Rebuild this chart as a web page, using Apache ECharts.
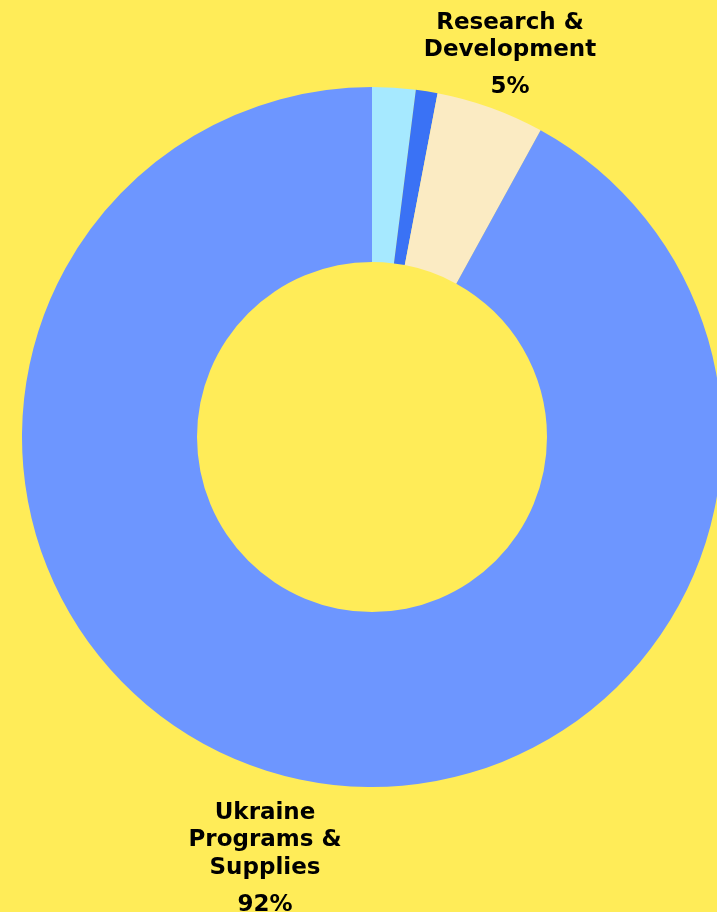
<!DOCTYPE html>
<html><head><meta charset="utf-8">
<style>html,body{margin:0;padding:0;background:#FFEC58;}#c{width:717px;height:912px;}</style>
<script src="https://cdn.jsdelivr.net/npm/echarts@6/dist/echarts.min.js"></script>
</head><body><div id="c"></div>
<script>
const categories = ['Administration', 'Fundraising', 'Research & Development', 'Ukraine Programs & Supplies'];
const labelNames = [null, null, ['Research &', 'Development'], ['Ukraine', 'Programs &', 'Supplies']];
const values = [2, 1, 5, 92];
const colors = ['#A6E9FF', '#3A72F5', '#FBEBC3', '#6D96FF'];

const chart = echarts.init(document.getElementById('c'));
const data = categories.map((c, i) => ({
  name: c, value: values[i],
  itemStyle: { color: colors[i] },
  label: { show: !!labelNames[i] }
}));
chart.setOption({
  backgroundColor: '#FFEC58',
  animation: false,
  series: [{
    type: 'pie',
    center: [372, 437],
    radius: [175, 350],
    startAngle: 90,
    clockwise: true,
    data: data,
    labelLine: { show: false },
    label: {
      position: 'outside',
      formatter: p => {
        const lines = labelNames[p.dataIndex] || [];
        return lines.map(l => '{n|' + l + '}').join('\n') + '\n{p|' + p.value + '%}';
      },
      rich: {
        n: { fontFamily: 'DejaVu Sans', fontWeight: 'bold', fontSize: 23, color: '#000', lineHeight: 27.5, align: 'center' },
        p: { fontFamily: 'DejaVu Sans', fontWeight: 'bold', fontSize: 23, color: '#000', lineHeight: 47, align: 'center' }
      }
    },
    labelLayout: function (params) {
      if (params.dataIndex === 2) return { x: 510, y: 9, align: 'center', verticalAlign: 'top' };
      if (params.dataIndex === 3) return { x: 265, y: 799, align: 'center', verticalAlign: 'top' };
      return {};
    }
  }]
});
</script></body></html>
